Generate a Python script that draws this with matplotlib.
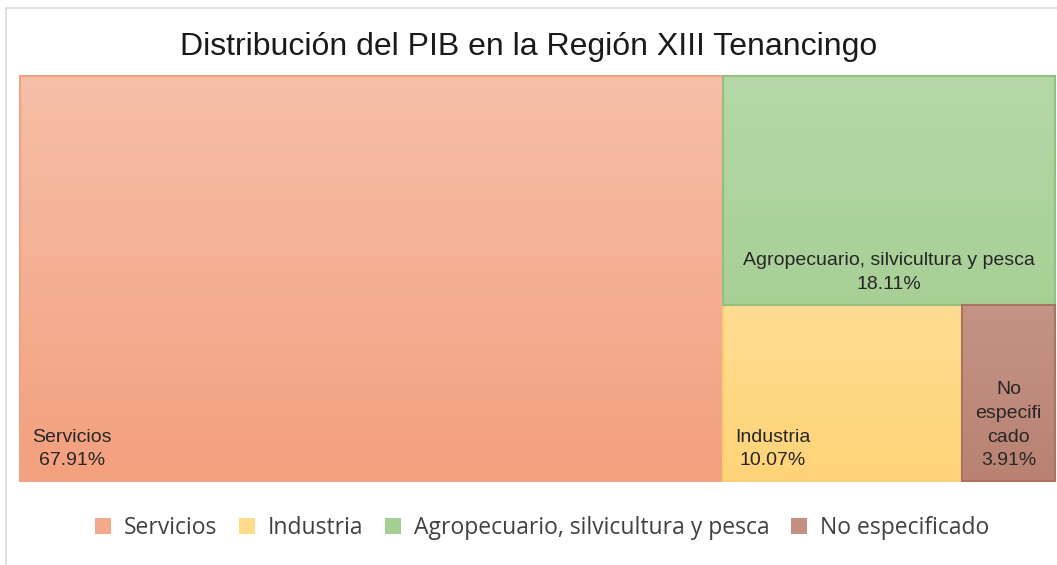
import matplotlib.pyplot as plt
import matplotlib.patches as mpatches
import numpy as np

# Data
categories = ['Servicios', 'Industria', 'Agropecuario, silvicultura y pesca', 'No especificado']
values = [67.91, 10.07, 18.11, 3.91]
box_labels = ['Servicios\n67.91%', 'Industria\n10.07%',
              'Agropecuario, silvicultura y pesca\n18.11%', 'No\nespecifi\ncado\n3.91%']
top_colors = ['#F6BFA8', '#FFE8B3', '#B6D8A8', '#D4AAA0']
bottom_colors = ['#F3A07E', '#FFD478', '#9CC987', '#B98272']
edge_colors = ['#EFA386', '#F5CF77', '#92C07E', '#A8735F']
legend_colors = ['#F4A98A', '#FFDB8A', '#A5CE93', '#C38F82']

W, H = 1057, 565
fig = plt.figure(figsize=(W / 100, H / 100), dpi=100)
ax = fig.add_axes([0, 0, 1, 1])
ax.set_xlim(0, W)
ax.set_ylim(H, 0)
ax.axis('off')

# outer frame (only top and left are visible in the reference)
ax.plot([6, 6, W], [H, 8, 8], color='#D9D9D9', lw=1.2)

narrow = ['Liberation Sans', 'DejaVu Sans']
ax.text(W / 2, 47, 'Distribución del PIB en la Región XIII Tenancingo',
        ha='center', va='center', fontsize=23, family=narrow, color='#1a1a1a')

# treemap area
x0, y0, tw, th = 20, 76, 1035, 405
total = sum(values)
serv, ind, agro, noesp = values

w_serv = tw * serv / total
rest = total - serv
h_agro = th * agro / rest
w_ind = (tw - w_serv) * ind / (ind + noesp)

rects = [
    (x0, y0, w_serv, th),
    (x0 + w_serv, y0 + h_agro, w_ind, th - h_agro),
    (x0 + w_serv, y0, tw - w_serv, h_agro),
    (x0 + w_serv + w_ind, y0 + h_agro, tw - w_serv - w_ind, th - h_agro),
]


def hex_rgb(c):
    c = c.lstrip('#')
    return np.array([int(c[i:i + 2], 16) / 255 for i in (0, 2, 4)])


for (rx, ry, rw, rh), c1, c2, ec in zip(rects, top_colors, bottom_colors, edge_colors):
    # vertical gradient across the whole tree area height
    t = np.linspace((ry - y0) / th, (ry + rh - y0) / th, 400)[:, None, None]
    grad = hex_rgb(c1) * (1 - t) + hex_rgb(c2) * t
    ax.imshow(grad, extent=(rx, rx + rw, ry + rh, ry), aspect='auto',
              interpolation='bilinear', zorder=1)
    ax.add_patch(mpatches.Rectangle((rx, ry), rw, rh, fill=False, ec=ec, lw=1.5, zorder=2))

lab_kw = dict(fontsize=14, family=narrow, color='#262626', multialignment='center',
              linespacing=1.5, zorder=3)
r = rects
ax.text(r[0][0] + 12, r[0][1] + r[0][3] - 12, box_labels[0], ha='left', va='bottom', **lab_kw)
ax.text(r[1][0] + 12, r[1][1] + r[1][3] - 12, box_labels[1], ha='left', va='bottom', **lab_kw)
ax.text(r[2][0] + r[2][2] / 2, r[2][1] + r[2][3] - 12, box_labels[2], ha='center', va='bottom', **lab_kw)
ax.text(r[3][0] + r[3][2] / 2, r[3][1] + r[3][3] - 12, box_labels[3], ha='center', va='bottom', **lab_kw)

handles = [mpatches.Patch(facecolor=c, edgecolor='none', label=n)
           for c, n in zip(legend_colors, categories)]
fig.legend(handles=handles, loc='center', bbox_to_anchor=(542 / W, 1 - 528 / H), ncol=4,
           frameon=False, prop={'family': ['Open Sans', 'DejaVu Sans'], 'size': 16.5},
           handlelength=0.7, handleheight=0.7, handletextpad=0.55, columnspacing=0.95,
           labelcolor='#404040')

fig.savefig('out.png', dpi=100)
